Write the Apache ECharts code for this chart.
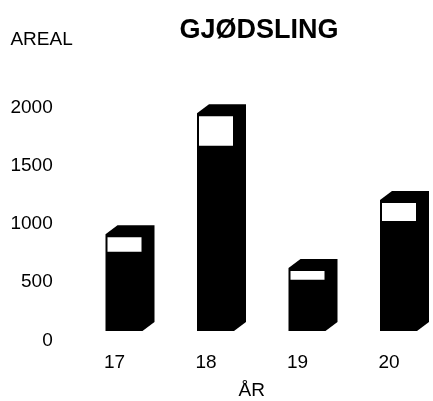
<!DOCTYPE html>
<html>
<head>
<meta charset="utf-8">
<script src="https://cdn.jsdelivr.net/npm/echarts@6/dist/echarts.min.js"></script>
<style>html,body{margin:0;padding:0;background:#fff}#c{width:433px;height:401px}</style>
</head>
<body>
<div id="c"></div>
<script>
var categories = ['17', '18', '19', '20'];
var lowerValues = [680, 1590, 440, 945];   // black part
var upperValues = [150, 280, 100, 180];    // white part
var yTicks = [0, 500, 1000, 1500, 2000];

var chart = echarts.init(document.getElementById('c'));
var FONT = '"Liberation Sans", Arial, sans-serif';

var data = categories.map(function (c, i) { return [i, lowerValues[i], upperValues[i]]; });

function renderItem(params, api) {
  var idx = api.value(0), lo = api.value(1), up = api.value(2);
  var base = api.coord([idx, 0]);
  var cx = base[0], y0 = base[1];
  var yTop = api.coord([idx, lo + up])[1];
  var yMid = api.coord([idx, lo])[1];
  var w = 37, dx = 12, dy = 9;
  var left = cx - 9, right = left + w;
  return {
    type: 'group',
    children: [
      {
        type: 'polygon',
        shape: { points: [[left, y0], [left, yTop], [left + dx, yTop - dy], [right + dx, yTop - dy], [right + dx, y0 - dy], [right, y0]] },
        style: { fill: '#000' }
      },
      {
        type: 'rect',
        shape: { x: left + 2, y: yTop + 3, width: w - 3, height: Math.max(0, yMid - yTop - 3) },
        style: { fill: '#fff' }
      }
    ]
  };
}

chart.setOption({
  animation: false,
  backgroundColor: '#fff',
  title: {
    text: 'GJØDSLING',
    left: 254,
    top: 12,
    textAlign: 'center',
    textStyle: { fontFamily: FONT, fontSize: 27, fontWeight: 'bold', color: '#000' }
  },
  grid: { left: 68.75, right: -1.75, top: 98, bottom: 70, outerBoundsMode: 'none', containLabel: false },
  xAxis: {
    type: 'category',
    data: categories,
    name: 'ÅR',
    nameLocation: 'middle',
    nameGap: 50,
    nameTextStyle: { fontFamily: FONT, fontSize: 19, color: '#000' },
    axisLine: { show: false },
    axisTick: { show: false },
    axisLabel: { margin: 22, fontFamily: FONT, fontSize: 19, color: '#000' }
  },
  yAxis: {
    type: 'value',
    min: yTicks[0],
    max: yTicks[yTicks.length - 1],
    interval: 500,
    name: 'AREAL',
    nameLocation: 'end',
    nameGap: 49,
    nameTextStyle: { fontFamily: FONT, fontSize: 19, color: '#000', align: 'right', padding: [0, -4, 0, 0] },
    axisLine: { show: false },
    axisTick: { show: false },
    splitLine: { show: false },
    axisLabel: {
      margin: 16, verticalAlign: 'top', fontFamily: FONT, fontSize: 19, color: '#000',
      formatter: function (v) { return String(v); }
    }
  },
  series: [{
    type: 'custom',
    renderItem: renderItem,
    data: data,
    encode: { x: 0, y: [1, 2] },
    clip: false
  }]
});
</script>
</body>
</html>
